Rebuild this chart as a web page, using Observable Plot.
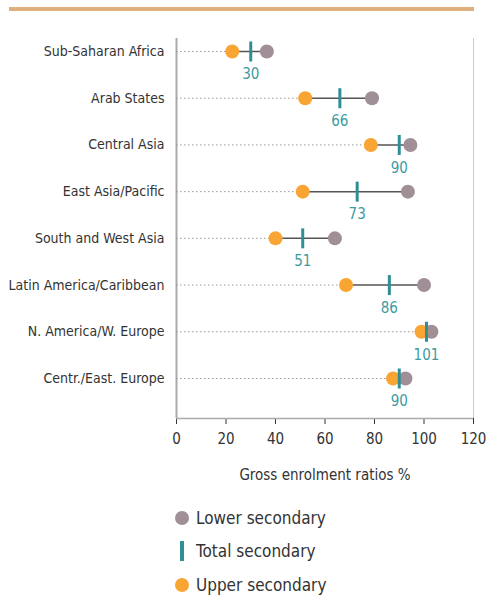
<!DOCTYPE html>
<html>
<head>
<meta charset="utf-8">
<script src="https://cdn.jsdelivr.net/npm/d3@7"></script>
<script src="https://cdn.jsdelivr.net/npm/@observablehq/plot@0.6"></script>
<style>
  body { margin: 0; background: #fff; font-family: "DejaVu Sans Condensed", "Roboto", sans-serif; }
  #wrap { position: relative; width: 486px; height: 598px; }
  #bar { position: absolute; left: 9px; top: 7px; width: 465px; height: 4px; background: #dfb07b; }
  #chart { position: absolute; left: 0; top: 0; }
  #legend { position: absolute; left: 174px; top: 501px; color: #333; font-size: 17px; }
  .item { height: 33.5px; display: flex; align-items: center; }
  .item svg { margin-right: 6px; }
  #chart [aria-label="x-axis tick label"], #chart [aria-label="x-axis label"] { font-size: 15px; }
</style>
</head>
<body>
<div id="wrap">
  <div id="bar"></div>
  <div id="chart"></div>
  <div id="legend"></div>
</div>
<script>
const categories = ["Sub-Saharan Africa", "Arab States", "Central Asia", "East Asia/Pacific",
  "South and West Asia", "Latin America/Caribbean", "N. America/W. Europe", "Centr./East. Europe"];
const lowerSecondary = [36.5, 79, 94.5, 93.5, 64, 100, 103, 92.5];
const totalSecondary = [30, 66, 90, 73, 51, 86, 101, 90];
const upperSecondary = [22.5, 52, 78.5, 51, 40, 68.5, 99, 87.5];
const xTicks = [0, 20, 40, 60, 80, 100, 120];
const seriesNames = ["Lower secondary", "Total secondary", "Upper secondary"];

const colLower = "#a08f96", colTotal = "#2f8f94", colUpper = "#f9a533", colLabel = "#3d9ba0";

const data = categories.map((region, i) => ({
  region,
  lower: lowerSecondary[i],
  total: totalSecondary[i],
  upper: upperSecondary[i],
  lo: Math.min(lowerSecondary[i], upperSecondary[i]),
  hi: Math.max(lowerSecondary[i], upperSecondary[i])
}));

const barSymbol = { draw(context) { context.rect(-1.5, -10, 3, 20); } };

const chart = Plot.plot({
  width: 486,
  height: 490,
  marginLeft: 176,
  marginRight: 13,
  marginTop: 38,
  marginBottom: 72,
  style: { fontFamily: "'DejaVu Sans Condensed', Roboto, sans-serif", fontSize: "14px", color: "#333", background: "transparent" },
  x: { domain: [0, 120], ticks: xTicks, tickSize: 6, tickPadding: 9, label: "Gross enrolment ratios %", labelAnchor: "center", labelOffset: 61, labelArrow: "none" },
  y: { type: "point", domain: categories, padding: 0, round: false, insetTop: 13, insetBottom: 40, tickSize: 0, tickPadding: 12, label: null },
  marks: [
    Plot.ruleX([0], { stroke: "#aaa", strokeWidth: 2 }),
    Plot.ruleX([120], { stroke: "#ccc", strokeWidth: 1 }),
    Plot.ruleY([categories[categories.length - 1]], { dy: 40, stroke: "#aaa", strokeWidth: 1.5 }),
    Plot.ruleY(data, { y: "region", x1: () => 0, x2: "lo", stroke: "#999", strokeDasharray: "1.5,2.5" }),
    Plot.ruleY(data, { y: "region", x1: "lo", x2: "hi", stroke: "#555", strokeWidth: 1.5 }),
    Plot.dot(data, { x: "lower", y: "region", r: 7, fill: colLower }),
    Plot.dot(data, { x: "upper", y: "region", r: 7, fill: colUpper }),
    Plot.dot(data, { x: "total", y: "region", symbol: barSymbol, fill: colTotal, stroke: "none" }),
    Plot.text(data, { x: "total", y: "region", text: d => String(d.total), dy: 23, fill: colLabel, fontSize: 15 })
  ]
});
document.getElementById("chart").appendChild(chart);

const legend = document.getElementById("legend");
const symbols = [
  `<svg width="16" height="20"><circle cx="8" cy="10" r="7" fill="${colLower}"/></svg>`,
  `<svg width="16" height="22"><rect x="6" y="1" width="4" height="20" fill="${colTotal}"/></svg>`,
  `<svg width="16" height="20"><circle cx="8" cy="10" r="7" fill="${colUpper}"/></svg>`
];
seriesNames.forEach((name, i) => {
  const div = document.createElement("div");
  div.className = "item";
  div.innerHTML = symbols[i] + `<span>${name}</span>`;
  legend.appendChild(div);
});
</script>
</body>
</html>
